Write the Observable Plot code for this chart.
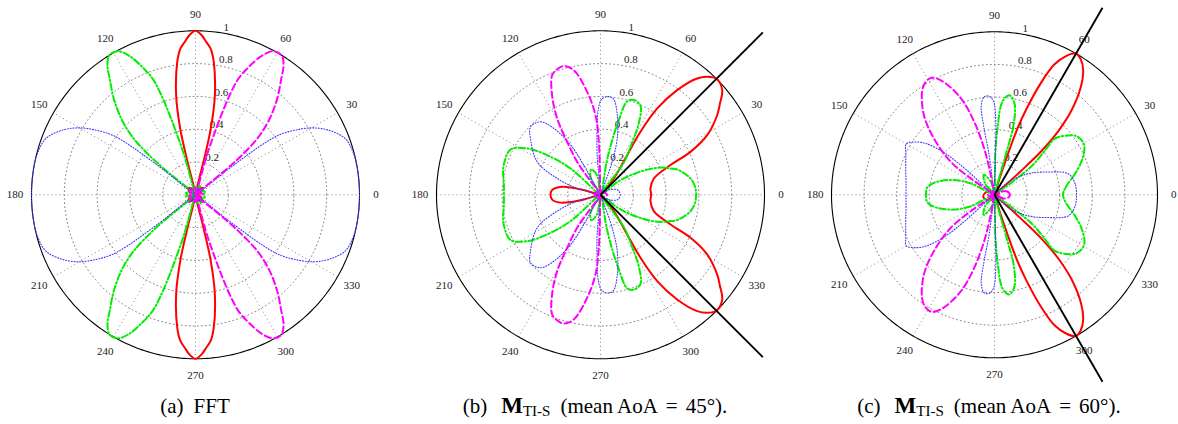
<!DOCTYPE html>
<html><head><meta charset="utf-8">
<script src="https://cdn.jsdelivr.net/npm/d3@7"></script>
<script src="https://cdn.jsdelivr.net/npm/@observablehq/plot@0.6"></script>
<style>
html,body{margin:0;padding:0;background:#fff;}
body{width:1178px;height:424px;position:relative;overflow:hidden;font-family:"Liberation Serif","Times New Roman",serif;}
.panel{position:absolute;top:0;width:390px;height:424px;}
.cap{position:absolute;top:394px;font-size:21px;line-height:24px;white-space:nowrap;transform:translateX(-50%);color:#000;}
.cap b{font-size:23px;}
.cap sub{font-size:15px;vertical-align:-3px;line-height:0;}
</style></head><body>
<div id="pa" class="panel" style="left:0px"></div>
<div id="pb" class="panel" style="left:405px"></div>
<div id="pc" class="panel" style="left:798.5px"></div>
<div class="cap" style="left:195px">(a)<span style="margin-left:10px">FFT</span></div>
<div class="cap" style="left:595px">(b)<span style="margin-left:14px"></span><b>M</b><sub>TI-S</sub><span style="margin-left:10px">(mean AoA</span><span style="margin:0 8px">=</span>45°).</div>
<div class="cap" style="left:989px">(c)<span style="margin-left:14px"></span><b>M</b><sub>TI-S</sub><span style="margin-left:10px">(mean AoA</span><span style="margin:0 8px">=</span>60°).</div>
<script>
// ---- axis ticks ----
const ringTicks = [0.2, 0.4, 0.6, 0.8];
const ringLabels = [0.2, 0.4, 0.6, 0.8, 1];
const angleTicks = [0, 30, 60, 90, 120, 150, 180, 210, 240, 270, 300, 330];
const spokeAngles = [0, 30, 60, 90, 120, 150];

// ---- (a) FFT : [angle in degrees, magnitude] ----
const redA = [[0,0.0],[20,0.035],[45,0.06],[62,0.035],[75,0.0],
 [76.4,0.207],[77,0.415],[79,0.619],[82.2,0.819],[84.1,0.896],[86,0.935],[87.8,0.974],[90,1.0],
 [92.2,0.974],[94,0.935],[95.9,0.896],[97.8,0.819],[101,0.619],[103,0.415],[103.6,0.207],
 [105,0.0],[118,0.035],[135,0.06],[160,0.035],
 [180,0.0],[200,0.035],[225,0.06],[242,0.035],[255,0.0],
 [256.4,0.207],[257,0.415],[259,0.619],[262.2,0.819],[264.1,0.896],[266,0.935],[267.8,0.974],[270,1.0],
 [272.2,0.974],[274,0.935],[275.9,0.896],[277.8,0.819],[281,0.619],[283,0.415],[283.6,0.207],
 [285,0.0],[298,0.035],[315,0.06],[340,0.035]];
const magentaA = [[0,0.045],[14,0.035],[26,0.02],[38,0.0],
 [39.5,0.25],[40.8,0.40],[42.5,0.52],[45.5,0.64],[49.5,0.765],[53.4,0.876],[55.8,0.955],[58.3,1.0],[61.5,0.996],[64.5,0.939],[67.5,0.84],[69.7,0.756],[71,0.65],[72,0.52],[72.7,0.42],[74,0.25],
 [76,0.0],[88,0.035],[100,0.045],[118,0.03],[140,0.045],[160,0.03],[180,0.045],[200,0.03],[220,0.045],[242,0.03],[260,0.045],[272,0.035],
 [284,0.0],[286,0.25],[287.3,0.42],[288,0.52],[289,0.65],[290.3,0.756],[292.5,0.84],[295.5,0.939],[298.5,0.996],[301.7,1.0],[304.2,0.955],[306.6,0.876],[310.5,0.765],[314.5,0.64],[317.5,0.52],[319.2,0.40],[320.5,0.25],
 [322,0.0],[334,0.02],[346,0.035]];
const greenA = [[0,0.05],[20,0.06],[40,0.04],[60,0.06],[80,0.05],[95,0.03],
 [104,0.0],[106,0.25],[107.3,0.42],[108,0.52],[109,0.65],[110.3,0.756],[112.5,0.84],[115.5,0.939],[118.5,0.996],[121.7,1.0],[124.2,0.955],[126.6,0.876],[130.5,0.765],[134.5,0.64],[137.5,0.52],[139.2,0.40],[140.5,0.25],
 [142,0.0],[155,0.03],[170,0.06],[180,0.05],[190,0.06],[205,0.03],
 [218,0.0],[219.5,0.25],[220.8,0.40],[222.5,0.52],[225.5,0.64],[229.5,0.765],[233.4,0.876],[235.8,0.955],[238.3,1.0],[241.5,0.996],[244.5,0.939],[247.5,0.84],[249.7,0.756],[251,0.65],[252,0.52],[252.7,0.42],[254,0.25],
 [256,0.0],[265,0.03],[280,0.05],[300,0.06],[320,0.04],[340,0.06]];
const blueA = [[0,1.0],[9,1.0],[15.2,0.995],[20.6,0.975],[25.9,0.902],[29.9,0.819],[33,0.724],[35.7,0.623],[37,0.5],[37.5,0.38],[38,0.25],
 [40,0.0],[52,0.05],[68,0.03],[90,0.03],[112,0.03],[128,0.05],
 [140,0.0],[142,0.25],[142.5,0.38],[143,0.5],[144.3,0.623],[147,0.724],[150.1,0.819],[154.1,0.902],[159.4,0.975],[164.8,0.995],[171,1.0],[180,1.0],
 [189,1.0],[195.2,0.995],[200.6,0.975],[205.9,0.902],[209.9,0.819],[213,0.724],[215.7,0.623],[217,0.5],[217.5,0.38],[218,0.25],
 [220,0.0],[232,0.05],[248,0.03],[270,0.03],[292,0.03],[308,0.05],
 [320,0.0],[322,0.25],[322.5,0.38],[323,0.5],[324.3,0.623],[327,0.724],[330.1,0.819],[334.1,0.902],[339.4,0.975],[344.8,0.995],[351,1.0]];

// ---- (b) M_TI-S, mean AoA = 45 ----
const redB = [[0,0.309],[7,0.307],[17,0.34],[23,0.464],[25.5,0.608],[29.2,0.745],[34.3,0.861],[37.3,0.915],[40.7,0.979],[45,1.0],[47.9,0.97],[50.3,0.922],[53.8,0.791],[56.7,0.63],[57.6,0.455],[56.1,0.291],[52,0.157],[48,0.05],
 [75,0.015],[110,0.025],[140,0.02],[160,0.02],[164,0.1],[166,0.18],[169,0.25],[174,0.295],[180,0.305],[186,0.295],[191,0.25],[194,0.18],[196,0.1],[200,0.02],[220,0.02],[250,0.025],[285,0.015],
 [312,0.05],[308,0.157],[303.9,0.291],[302.4,0.455],[303.3,0.63],[306.2,0.791],[309.7,0.922],[312.1,0.97],[315,1.0],[319.3,0.979],[322.7,0.915],[325.7,0.861],[330.8,0.745],[334.5,0.608],[337,0.464],[343,0.34],[353,0.307]];
const magentaB = [[0,0.04],[25,0.03],[50,0.02],[75,0.02],
 [90,0.0],[91.5,0.16],[91.8,0.323],[93.6,0.487],[97.4,0.633],[102.1,0.777],[105.9,0.816],[109,0.81],[112,0.787],[115.9,0.676],[119.6,0.535],[122.2,0.382],[125.3,0.246],[126,0.122],
 [128,0.0],[150,0.03],[180,0.035],[210,0.03],
 [232,0.0],[234,0.122],[234.7,0.246],[237.8,0.382],[240.4,0.535],[244.1,0.676],[248,0.787],[251,0.81],[254.1,0.816],[257.9,0.777],[262.6,0.633],[266.4,0.487],[268.2,0.323],[268.5,0.16],
 [270,0.0],[285,0.02],[310,0.02],[335,0.03]];
const greenB = [[0,0.583],[5,0.578],[10,0.56],[14,0.53],[18,0.495],[21,0.45],[24.5,0.40],[28,0.33],[33,0.22],[37,0.13],
 [40,0.0],[54,0.24],[58.7,0.37],[62,0.5],[65.8,0.595],[70.5,0.613],[74,0.594],[76.3,0.46],[78,0.33],[79.5,0.2],
 [82,0.0],[100,0.12],[110,0.165],[120,0.12],
 [133,0.0],[138.7,0.243],[143.4,0.405],[147.7,0.529],[153.3,0.614],[161,0.619],[167,0.61],[172.3,0.595],[180,0.589],[187.7,0.595],[193,0.61],[199,0.619],[206.7,0.614],[212.3,0.529],[216.6,0.405],[221.3,0.243],
 [227,0.0],[240,0.12],[250,0.165],[260,0.12],
 [278,0.0],[280.5,0.2],[282,0.33],[283.7,0.46],[286,0.594],[289.5,0.613],[294.2,0.595],[298,0.5],[301.3,0.37],[306,0.24],
 [320,0.0],[323,0.13],[327,0.22],[332,0.33],[335.5,0.40],[339,0.45],[342,0.495],[346,0.53],[350,0.56],[355,0.578]];
const blueB = [[0,0.12],[15,0.11],[30,0.06],[42,0.0],
 [66,0.0],[70.5,0.21],[73.5,0.36],[78.2,0.5],[82.5,0.592],[86.1,0.6],[89.5,0.58],[91.5,0.52],[92.9,0.405],[94.8,0.243],
 [97,0.0],[108,0.03],
 [115,0.0],[119.3,0.207],[121,0.354],[125.1,0.495],[129.4,0.576],[135.8,0.595],[141.2,0.548],[152.5,0.435],[159.3,0.282],[164.8,0.147],
 [168,0.0],[180,0.03],
 [192,0.0],[195.2,0.147],[200.7,0.282],[207.5,0.435],[218.8,0.548],[224.2,0.595],[230.6,0.576],[234.9,0.495],[239,0.354],[240.7,0.207],
 [245,0.0],[252,0.03],
 [263,0.0],[265.2,0.243],[267.1,0.405],[268.5,0.52],[270.5,0.58],[273.9,0.6],[277.5,0.592],[281.8,0.5],[286.5,0.36],[289.5,0.21],
 [294,0.0],[318,0.0],[330,0.06],[345,0.11]];
const blackB = [[45,1.4],[-45,1.4]];

// ---- (c) M_TI-S, mean AoA = 60 ----
const redC = [[0,0.02],[20,0.03],[40,0.0],[41.5,0.1],[42,0.223],[43,0.396],[45,0.555],[47.6,0.70],[51.3,0.847],[54.5,0.937],[57.5,0.985],[60.1,1.0],[62.6,0.96],[65.3,0.881],[67.5,0.74],[69.6,0.56],[70.9,0.433],[71.8,0.258],[73,0.105],
 [76,0.0],[110,0.02],[150,0.04],[170,0.06],[190,0.07],[210,0.06],[235,0.04],[260,0.02],
 [284,0.0],[287,0.105],[288.2,0.258],[289.1,0.433],[290.4,0.56],[292.5,0.74],[294.7,0.881],[297.4,0.96],[299.9,1.0],[302.5,0.985],[305.5,0.937],[308.7,0.847],[312.4,0.70],[315,0.555],[317,0.396],[318,0.223],[318.5,0.1],
 [320,0.0],[340,0.03]];
const magentaC = [[0,0.095],[12,0.085],[22,0.06],[30,0.0],[60,0.02],[85,0.02],
 [99,0.0],[100.6,0.123],[102.6,0.293],[105.6,0.468],[109.3,0.63],[114.7,0.768],[118.2,0.815],[121.5,0.81],[124.9,0.776],[131.4,0.656],[137,0.51],[142.9,0.338],[145.4,0.177],
 [147,0.0],[165,0.03],[180,0.04],[195,0.03],
 [213,0.0],[214.6,0.177],[217.1,0.338],[223,0.51],[228.6,0.656],[235.1,0.776],[238.5,0.81],[241.8,0.815],[245.3,0.768],[250.7,0.63],[254.4,0.468],[257.4,0.293],[259.4,0.123],
 [261,0.0],[275,0.02],[300,0.02],[330,0.0],[338,0.06],[348,0.085]];
const greenC = [[0,0.42],[6.2,0.44],[14.7,0.511],[21.5,0.576],[28,0.625],[32,0.631],[36,0.615],[39,0.578],[42,0.53],[43,0.5],[41,0.4],[38,0.3],[36,0.15],
 [36,0.0],[70,0.0],[74.6,0.147],[74.3,0.297],[74.7,0.446],[77.8,0.577],[81.6,0.618],[85.1,0.576],[87.4,0.41],[89,0.245],
 [90,0.0],[105,0.08],[118,0.14],[130,0.09],
 [145,0.0],[154.4,0.162],[160,0.265],[165.7,0.342],[170,0.39],[174,0.416],[180,0.42],[186,0.416],[190,0.39],[194.3,0.342],[200,0.265],[205.6,0.162],
 [215,0.0],[230,0.09],[242,0.14],[255,0.08],
 [270,0.0],[271,0.245],[272.6,0.41],[274.9,0.576],[278.4,0.618],[282.2,0.577],[285.3,0.446],[285.7,0.297],[285.4,0.147],
 [290,0.0],[324,0.0],[324,0.15],[322,0.3],[319,0.4],[317,0.5],[318,0.53],[321,0.578],[324,0.615],[328,0.631],[332,0.625],[338.5,0.576],[345.3,0.511],[353.8,0.44]];
const blueC = [[0,0.503],[8,0.499],[15.9,0.471],[22.9,0.359],[32,0.244],[42.8,0.115],
 [48,0.0],[65,0.03],
 [86,0.0],[88.5,0.2],[89,0.45],[90.5,0.57],[93,0.605],[96,0.605],[98.5,0.55],[98.9,0.414],[97.7,0.247],[98,0.08],
 [100,0.0],[118,0.03],
 [137,0.0],[138.5,0.24],[140,0.4],[143,0.52],[146,0.58],[150,0.625],[155,0.6],[163.5,0.568],[172,0.548],[180,0.543],[188,0.548],[196.5,0.568],[205,0.6],[210,0.625],[214,0.58],[217,0.52],[220,0.4],[221.5,0.24],
 [223,0.0],[242,0.03],
 [260,0.0],[262,0.08],[262.3,0.247],[261.1,0.414],[261.5,0.55],[264,0.605],[267,0.605],[269.5,0.57],[271,0.45],[271.5,0.2],
 [274,0.0],[295,0.03],
 [312,0.0],[317.2,0.115],[328,0.244],[337.1,0.359],[344.1,0.471],[352,0.499]];
const blackC = [[60,1.325],[-60,1.325]];

// ---- helpers ----
const rad = a => a * Math.PI / 180;
const px = d => d[1] * Math.cos(rad(d[0]));
const py = d => d[1] * Math.sin(rad(d[0]));
const ringPts = ringTicks.flatMap(v => d3.range(0, 361, 2).map(a => [a, v, v]));
const outerPts = d3.range(0, 361, 1).map(a => [a, 1]);

const styles = {
  red: {stroke: "#ff0000", strokeWidth: 2},
  magenta: {stroke: "#ff00ff", strokeWidth: 2, strokeDasharray: "6.5,3.5"},
  green: {stroke: "#00ee00", strokeWidth: 2, strokeDasharray: "6.5,2.5,1.2,2.5"},
  blue: {stroke: "#3a3aff", strokeWidth: 1.1, strokeDasharray: "1,1.8"}
};

function polarPanel({R, curves, spokes}) {
  const W = 390, H = 424, cx = 195, cy = 194.3;
  const c82 = Math.cos(rad(82)), s82 = Math.sin(rad(82));
  return Plot.plot({
    width: W, height: H, margin: 0,
    x: {domain: [-cx / R, (W - cx) / R], axis: null},
    y: {domain: [-(H - cy) / R, cy / R], axis: null},
    style: {overflow: "visible", background: "transparent", fontFamily: "Liberation Serif, Times New Roman, serif"},
    marks: [
      Plot.line(ringPts, {x: px, y: py, z: d => d[2], stroke: "#777", strokeWidth: 0.9, strokeDasharray: "1,3"}),
      Plot.link(spokeAngles, {x1: a => -Math.cos(rad(a)), y1: a => -Math.sin(rad(a)), x2: a => Math.cos(rad(a)), y2: a => Math.sin(rad(a)),
        stroke: "#777", strokeWidth: 0.9, strokeDasharray: "1,3"}),
      Plot.line(outerPts, {x: px, y: py, stroke: "#000", strokeWidth: 1.1}),
      Plot.text(angleTicks, {x: a => 1.1 * Math.cos(rad(a)), y: a => 1.1 * Math.sin(rad(a)), text: a => String(a), fontSize: 11, fill: "#222"}),
      Plot.text(ringLabels, {x: v => (v + 0.01) * c82, y: v => (v + 0.01) * s82, text: v => String(v),
        textAnchor: "start", dx: 5, lineAnchor: "bottom", fontSize: 11, fill: "#222"}),
      ...curves.map(([data, s]) => Plot.line(data, {x: px, y: py, curve: "catmull-rom-closed", ...styles[s]})),
      spokes ? Plot.link(spokes, {x1: () => 0, y1: () => 0, x2: px, y2: py, stroke: "#000", strokeWidth: 1.9}) : null
    ]
  });
}

document.getElementById("pa").append(polarPanel({R: 164,
  curves: [[redA, "red"], [greenA, "green"], [blueA, "blue"], [magentaA, "magenta"]]}));
document.getElementById("pb").append(polarPanel({R: 164,
  curves: [[redB, "red"], [greenB, "green"], [blueB, "blue"], [magentaB, "magenta"]], spokes: blackB}));
document.getElementById("pc").append(polarPanel({R: 163,
  curves: [[redC, "red"], [greenC, "green"], [blueC, "blue"], [magentaC, "magenta"]], spokes: blackC}));
</script></body></html>
